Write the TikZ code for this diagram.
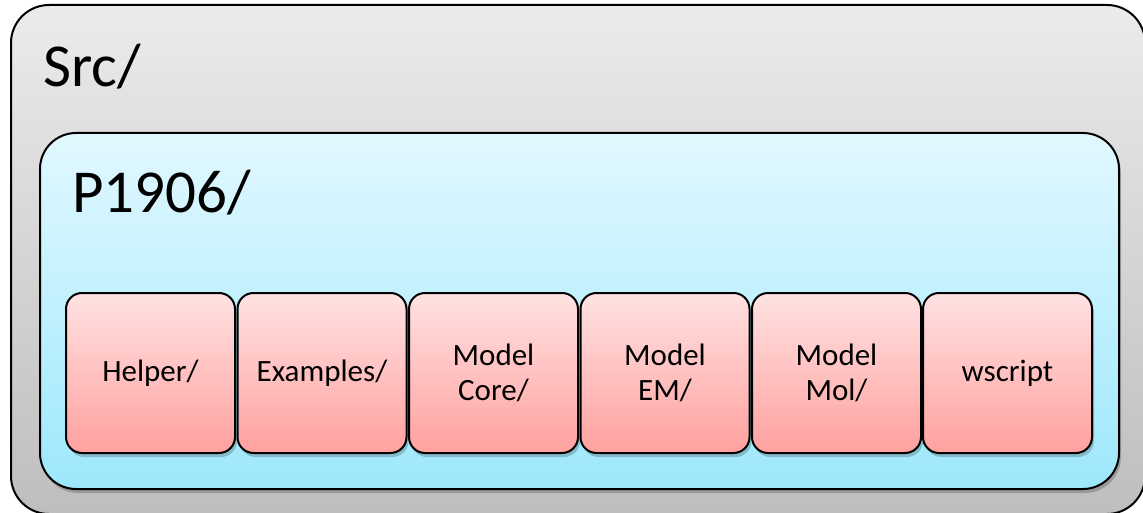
\documentclass[tikz,border=0pt]{standalone}
\usepackage{fontspec}
\setmainfont{Carlito}
\usetikzlibrary{shadows}

\definecolor{srcTop}{HTML}{EBEBEB}
\definecolor{srcBot}{HTML}{BEBEBE}
\definecolor{pkgTop}{HTML}{E2F8FF}
\definecolor{pkgBot}{HTML}{9DE8FC}
\definecolor{dirTop}{HTML}{FFE2E2}
\definecolor{dirBot}{HTML}{FFA19F}

\tikzset{
  folder/.style={draw=black, line width=2pt, inner sep=0pt, outer sep=0pt},
  srcbox/.style={folder, rounded corners=38pt, top color=srcTop, bottom color=srcBot,
    minimum width=1134pt, minimum height=509pt},
  pkgbox/.style={folder, rounded corners=36pt, top color=pkgTop, bottom color=pkgBot,
    minimum width=1079pt, minimum height=356pt,
    drop shadow={shadow xshift=2pt, shadow yshift=-4pt, opacity=0.2, fill=black}},
  dirbox/.style={folder, rounded corners=16pt, top color=dirTop, bottom color=dirBot,
    minimum width=169pt, minimum height=160pt, align=center,
    font=\fontsize{31}{35}\selectfont,
    drop shadow={shadow xshift=2pt, shadow yshift=-4pt, opacity=0.2, fill=black}},
  bigtitle/.style={anchor=base west, inner sep=0pt, font=\fontsize{61}{72}\selectfont},
}

\begin{document}
\begin{tikzpicture}[x=1pt, y=-1pt]
  \useasboundingbox (0,0) rectangle (1143,513);
  \clip (0,0) rectangle (1143,513);

  % src/ folder
  \node[srcbox] (src) at (578,259.5) {};
  \node[bigtitle] (srclabel) at (43,87) {Src/};

  % P1906/ package folder
  \node[pkgbox] (pkg) at (579.5,311) {};
  \node[bigtitle] (pkglabel) at (72,213) {P1906/};

  % sub-directories
  \node[dirbox] (helper)   at (150.5,373) {Helper/};
  \node[dirbox] (examples) at (322,373)   {Examples/};
  \node[dirbox] (core)     at (493.5,373) {Model\\Core/};
  \node[dirbox] (em)       at (665,373)   {Model\\EM/};
  \node[dirbox] (mol)      at (836.5,373) {Model\\Mol/};
  \node[dirbox] (wscript)  at (1007.5,373) {wscript};
\end{tikzpicture}
\end{document}
